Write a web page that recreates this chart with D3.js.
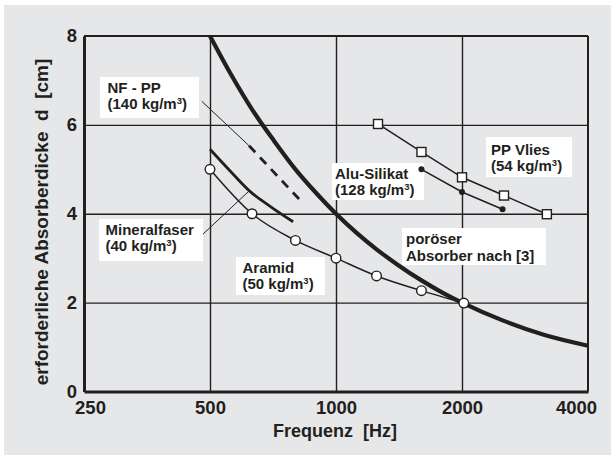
<!DOCTYPE html>
<html>
<head>
<meta charset="utf-8">
<script src="https://cdn.jsdelivr.net/npm/d3@7"></script>
<style>
  body { margin: 0; background: #fff; }
  svg { display: block; font-family: "Liberation Sans", Arial, sans-serif; font-weight: bold; }
  text { fill: #231f20; white-space: pre; }
</style>
</head>
<body>
<div id="chart"></div>
<script>
// Frequency axis (log) and thickness axis
var freqTicks = [250, 500, 1000, 2000, 4000];
var dTicks = [0, 2, 4, 6, 8];

// porous absorber after [3]
var porousFreq = [500, 560, 630, 710, 800, 900, 1000, 1120, 1250, 1400, 1600, 1800, 2000, 2500, 3150, 4000];
var porousD = [8.0, 7.15, 6.35, 5.65, 5.0, 4.45, 4.0, 3.57, 3.2, 2.86, 2.5, 2.22, 2.0, 1.6, 1.27, 1.03];

var aramidFreq = [500, 630, 800, 1000, 1250, 1600, 2020];
var aramidD = [5.0, 4.0, 3.4, 3.0, 2.6, 2.27, 1.99];

var mineralFreq = [500, 560, 620, 700, 790];
var mineralD = [5.45, 4.95, 4.52, 4.15, 3.82];

var nfppFreq = [620, 820];
var nfppD = [5.53, 4.31];

var ppVliesFreq = [1260, 1600, 2000, 2520, 3190];
var ppVliesD = [6.02, 5.39, 4.82, 4.41, 3.99];

var aluFreq = [1600, 2000, 2500];
var aluD = [5.0, 4.49, 4.1];

// leader lines from label boxes to the curves
var nfppLeaderFreq = [478, 620];
var nfppLeaderD = [6.53, 5.53];
var mineralLeaderFreq = [481, 621];
var mineralLeaderD = [3.54, 4.52];

function zip(f, d) { return f.map(function(v, i) { return { f: v, d: d[i] }; }); }

var W = 611, H = 455;
var svg = d3.select('#chart').append('svg').attr('width', W).attr('height', H);
svg.append('rect').attr('x', 4).attr('y', 5).attr('width', W - 4).attr('height', H - 5).attr('fill', '#e6e7e9');

var x = d3.scaleLog().domain([250, 4000]).range([84, 588]);
var y = d3.scaleLinear().domain([0, 8]).range([391.5, 36]);

// grid
var grid = svg.append('g');
grid.append('g').attr('transform', 'translate(0,' + y(0) + ')')
    .call(d3.axisBottom(x).tickValues([500, 1000, 2000]).tickSize(-(y(0) - y(8))).tickFormat(''))
    .call(function(g) { g.select('.domain').remove(); g.selectAll('line').attr('stroke', '#231f20').attr('stroke-width', 1.4); });
grid.append('g').attr('transform', 'translate(' + x(250) + ',0)')
    .call(d3.axisLeft(y).tickValues([2, 4, 6]).tickSize(-(x(4000) - x(250))).tickFormat(''))
    .call(function(g) { g.select('.domain').remove(); g.selectAll('line').attr('stroke', '#231f20').attr('stroke-width', 1.4); });

// frame
svg.append('line').attr('x1', x(250)).attr('x2', x(4000)).attr('y1', y(8)).attr('y2', y(8)).attr('stroke', '#231f20').attr('stroke-width', 2);
svg.append('line').attr('x1', x(4000)).attr('x2', x(4000)).attr('y1', y(8)).attr('y2', y(0)).attr('stroke', '#231f20').attr('stroke-width', 2);

// axes
var xAxis = svg.append('g').attr('transform', 'translate(0,' + y(0) + ')')
    .call(d3.axisBottom(x).tickValues(freqTicks).tickSize(0).tickPadding(9).tickFormat(d3.format('d')));
xAxis.select('.domain').attr('stroke', '#231f20').attr('stroke-width', 3);
xAxis.selectAll('text').style('font-size', '18.5px').style('font-family', 'inherit').attr('fill', '#231f20')
    .attr('dx', function(d) { return d === 250 ? 6 : (d === 4000 ? -12 : 0); });

var yAxis = svg.append('g').attr('transform', 'translate(' + x(250) + ',0)')
    .call(d3.axisLeft(y).tickValues(dTicks).tickSize(0).tickPadding(7).tickFormat(d3.format('d')));
yAxis.select('.domain').attr('stroke', '#231f20').attr('stroke-width', 3);
yAxis.selectAll('text').style('font-size', '18.5px').style('font-family', 'inherit').attr('fill', '#231f20');

svg.append('text').attr('x', 335).attr('y', 437).attr('text-anchor', 'middle').style('font-size', '18px').text('Frequenz  [Hz]');
svg.append('text').attr('transform', 'translate(48,222) rotate(-90)').attr('text-anchor', 'middle').style('font-size', '19px')
    .text('erforderliche Absorberdicke  d  [cm]');

// label boxes
var labels = [
    { box: [100, 77, 99, 41], tx: 107.5, ty: [92.5, 109], lines: ['NF - PP', '(140 kg/m|3|)'] },
    { box: [99, 219, 104, 42], tx: 105.5, ty: [235, 251], lines: ['Mineralfaser', '(40 kg/m|3|)'] },
    { box: [236, 257, 89, 38], tx: 242.5, ty: [272.5, 288.5], lines: ['Aramid', '(50 kg/m|3|)'] },
    { box: [332, 163, 92, 37], tx: 335, ty: [178.5, 195], lines: ['Alu-Silikat', '(128 kg/m|3|)'] },
    { box: [486, 137, 86, 40], tx: 491, ty: [154.5, 171], lines: ['PP Vlies', '(54 kg/m|3|)'] },
    { box: [402, 228, 144, 37], tx: 406, ty: [244, 260.5], lines: ['poröser', 'Absorber nach [3]'] }
];
labels.forEach(function(l) {
    svg.append('rect').attr('x', l.box[0]).attr('y', l.box[1]).attr('width', l.box[2]).attr('height', l.box[3]).attr('fill', '#fff');
    l.lines.forEach(function(s, i) {
        var t = svg.append('text').attr('x', l.tx).attr('y', l.ty[i]).style('font-size', '15px');
        var parts = s.split('|');
        t.append('tspan').text(parts[0]);
        if (parts.length > 1) {
            t.append('tspan').attr('dy', -5).style('font-size', '9.5px').text(parts[1]);
            t.append('tspan').attr('dy', 5).text(parts[2]);
        }
    });
});

var line = d3.line().x(function(p) { return x(p.f); }).y(function(p) { return y(p.d); });
var smooth = d3.line().x(function(p) { return x(p.f); }).y(function(p) { return y(p.d); }).curve(d3.curveMonotoneX);

svg.append('path').datum(zip(nfppLeaderFreq, nfppLeaderD)).attr('d', line).attr('fill', 'none').attr('stroke', '#231f20').attr('stroke-width', 1);
svg.append('path').datum(zip(mineralLeaderFreq, mineralLeaderD)).attr('d', line).attr('fill', 'none').attr('stroke', '#231f20').attr('stroke-width', 1);

svg.append('path').datum(zip(porousFreq, porousD)).attr('d', smooth).attr('fill', 'none').attr('stroke', '#231f20').attr('stroke-width', 4.2);
svg.append('path').datum(zip(mineralFreq, mineralD)).attr('d', smooth).attr('fill', 'none').attr('stroke', '#231f20').attr('stroke-width', 2.8);
svg.append('path').datum(zip(nfppFreq, nfppD)).attr('d', line).attr('fill', 'none').attr('stroke', '#231f20').attr('stroke-width', 2.8).attr('stroke-dasharray', '9,7');

svg.append('path').datum(zip(aramidFreq, aramidD)).attr('d', smooth).attr('fill', 'none').attr('stroke', '#231f20').attr('stroke-width', 1.5);
svg.append('path').datum(zip(ppVliesFreq, ppVliesD)).attr('d', line).attr('fill', 'none').attr('stroke', '#231f20').attr('stroke-width', 1.5);
svg.append('path').datum(zip(aluFreq, aluD)).attr('d', line).attr('fill', 'none').attr('stroke', '#231f20').attr('stroke-width', 1.5);

svg.selectAll('.aramid').data(zip(aramidFreq, aramidD)).enter().append('circle').attr('class', 'aramid')
    .attr('cx', function(p) { return x(p.f); }).attr('cy', function(p) { return y(p.d); }).attr('r', 4.8)
    .attr('fill', '#fff').attr('stroke', '#231f20').attr('stroke-width', 1.4);
svg.selectAll('.pp').data(zip(ppVliesFreq, ppVliesD)).enter().append('rect').attr('class', 'pp')
    .attr('x', function(p) { return x(p.f) - 4.5; }).attr('y', function(p) { return y(p.d) - 4.5; }).attr('width', 9).attr('height', 9)
    .attr('fill', '#fff').attr('stroke', '#231f20').attr('stroke-width', 1.4);
svg.selectAll('.alu').data(zip(aluFreq, aluD)).enter().append('circle').attr('class', 'alu')
    .attr('cx', function(p) { return x(p.f); }).attr('cy', function(p) { return y(p.d); }).attr('r', 3)
    .attr('fill', '#231f20');
</script>
</body>
</html>
